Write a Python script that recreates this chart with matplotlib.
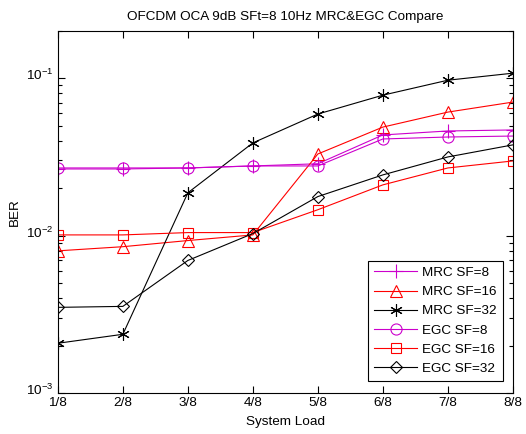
import numpy as np
import matplotlib
matplotlib.use('Agg')
import matplotlib.pyplot as plt
import matplotlib.transforms as mtransforms
from matplotlib.ticker import LogLocator, NullFormatter

plt.rcParams['font.family'] = ['Liberation Sans', 'DejaVu Sans']
plt.rcParams['mathtext.default'] = 'regular'

load_labels = ['1/8', '2/8', '3/8', '4/8', '5/8', '6/8', '7/8', '8/8']

mrc_sf8 = [0.0265, 0.0265, 0.0269, 0.0277, 0.0286, 0.0436, 0.0462, 0.0469]
mrc_sf16 = [0.0080, 0.0085, 0.0093, 0.0101, 0.0330, 0.0489, 0.0609, 0.0705]
mrc_sf32 = [0.00207, 0.00236, 0.0187, 0.0388, 0.0592, 0.0780, 0.0971, 0.1076]
egc_sf8 = [0.0269, 0.0269, 0.0269, 0.0277, 0.0277, 0.0411, 0.0423, 0.0429]
egc_sf16 = [0.0101, 0.0101, 0.01045, 0.01045, 0.0146, 0.0210, 0.0269, 0.0298]
egc_sf32 = [0.0035, 0.00355, 0.00695, 0.0103, 0.0177, 0.0243, 0.0316, 0.0377]

magenta = '#cc00cc'
fs = 9.7

fig = plt.figure(figsize=(5.26, 4.34), dpi=100)
ax = fig.add_axes([0.110, 0.0945, 0.865, 0.8345])

x = np.arange(1, len(load_labels) + 1)
lw = 0.8
asterisk = (6, 2, 0)
ax.semilogy(x, mrc_sf8, '-', color=magenta, marker='+', ms=10, mew=0.8, lw=lw, label='MRC SF=8')
ax.semilogy(x, mrc_sf16, '-', color='r', marker='^', ms=8, mfc='none', mew=0.8, lw=lw, label='MRC SF=16')
ax.semilogy(x, mrc_sf32, '-', color='k', marker=asterisk, ms=9, mew=0.8, lw=lw, label='MRC SF=32')
ax.semilogy(x, egc_sf8, '-', color=magenta, marker='o', ms=8, mfc='none', mew=0.8, lw=lw, label='EGC SF=8')
ax.semilogy(x, egc_sf16, '-', color='r', marker='s', ms=7, mfc='none', mew=0.8, lw=lw, label='EGC SF=16')
ax.semilogy(x, egc_sf32, '-', color='k', marker='D', ms=6.2, mfc='none', mew=0.8, lw=lw, label='EGC SF=32')

ax.set_xlim(1, 8)
ax.set_ylim(1e-3, 0.2)
ax.set_xticks(x)
ax.set_xticklabels(load_labels)
ax.yaxis.set_major_locator(LogLocator(base=10, numticks=10))
ax.yaxis.set_minor_locator(LogLocator(base=10, subs=np.arange(2, 10), numticks=10))
ax.yaxis.set_minor_formatter(NullFormatter())

ax.tick_params(which='both', direction='in', top=True, right=True, labelsize=fs, pad=3)
ax.tick_params(which='major', length=5, width=0.8)
ax.tick_params(which='minor', length=3, width=0.8)
for s in ax.spines.values():
    s.set_linewidth(0.8)

# lift the power-of-ten labels so the "10" sits on the tick
shift = mtransforms.ScaledTranslation(0, 3 / 72, fig.dpi_scale_trans)
for lbl in ax.get_yticklabels():
    lbl.set_transform(lbl.get_transform() + shift)

ax.set_xlabel('System Load', fontsize=fs, labelpad=5)
ax.set_ylabel('BER', fontsize=fs, labelpad=4)
ax.set_title('OFCDM OCA 9dB SFt=8 10Hz MRC&EGC Compare', fontsize=fs, pad=8)

leg = ax.legend(loc='lower right', bbox_to_anchor=(0.978, 0.033), borderaxespad=0,
                fontsize=fs, fancybox=False, framealpha=1, edgecolor='k',
                borderpad=0.45, handlelength=3.2, labelspacing=0.5,
                handletextpad=0.35)
leg.get_frame().set_linewidth(0.8)

fig.savefig('out.png', dpi=100)
